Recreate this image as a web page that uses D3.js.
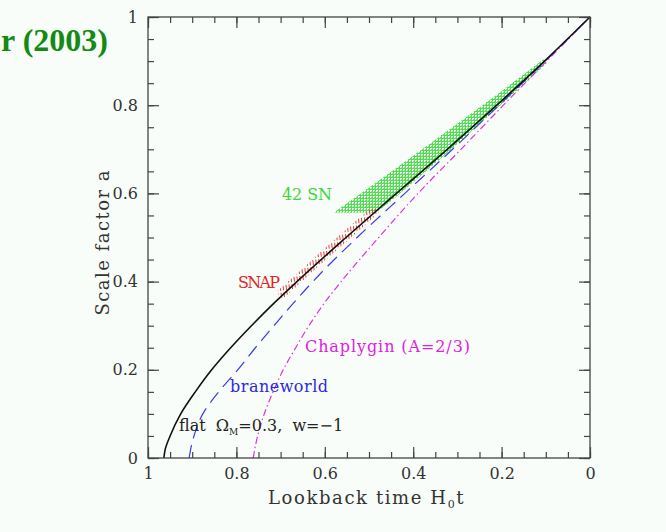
<!DOCTYPE html>
<html>
<head>
<meta charset="utf-8">
<script src="https://cdn.jsdelivr.net/npm/d3@7"></script>
<style>
  body { margin: 0; background: #f9fdf9; }
  svg { display: block; }
  .lbl { font-family: "DejaVu Serif", serif; }
  .tick text { font-family: "DejaVu Serif", serif; font-size: 16px; fill: #333; }
</style>
</head>
<body>
<div id="container"></div>
<script>
// scale factor a along each curve
const aFlat  = [0, 0.02, 0.05, 0.1, 0.15, 0.2, 0.25, 0.3, 0.35, 0.4, 0.5, 0.6, 0.7, 0.8, 0.9, 1.0];
const tFlat  = [0.964, 0.961, 0.950, 0.926, 0.893, 0.856, 0.813, 0.766, 0.716, 0.663, 0.552, 0.438, 0.323, 0.211, 0.103, 0];
const aBrane = [0, 0.05, 0.1, 0.15, 0.2, 0.25, 0.3, 0.35, 0.4, 0.5, 0.6, 0.7, 0.8, 0.9, 1.0];
const tBrane = [0.907, 0.896, 0.876, 0.840, 0.797, 0.757, 0.715, 0.672, 0.627, 0.527, 0.419, 0.311, 0.206, 0.101, 0];
const aChap  = [0, 0.05, 0.1, 0.15, 0.2, 0.25, 0.3, 0.35, 0.4, 0.5, 0.6, 0.7, 0.8, 0.9, 1.0];
const tChap  = [0.762, 0.752, 0.737, 0.717, 0.694, 0.666, 0.636, 0.602, 0.563, 0.478, 0.389, 0.292, 0.196, 0.098, 0];

// 42 SN region outline (lookback time, a)
const snBand = [[0.580, 0.556], [0.46, 0.642], [0.34, 0.729], [0.22, 0.817], [0.105, 0.904],
                [0.098, 0.895], [0.21, 0.793], [0.325, 0.690], [0.44, 0.591], [0.484, 0.556]];
// SNAP region outline
const snapBand = [[0.708, 0.378], [0.663, 0.418], [0.6085, 0.468], [0.552, 0.518], [0.490, 0.572],
                  [0.478, 0.556], [0.552, 0.490], [0.6085, 0.440], [0.663, 0.390], [0.698, 0.358]];

const xMajor = [1, 0.8, 0.6, 0.4, 0.2, 0];
const yMajor = [0, 0.2, 0.4, 0.6, 0.8, 1];
const minorTicks = d3.range(0, 21).map(i => i * 0.05);

const width = 666, height = 532;

const svg = d3.select("#container").append("svg")
    .attr("width", width)
    .attr("height", height);

const x = d3.scaleLinear().domain([1, 0]).range([148, 590]);
const y = d3.scaleLinear().domain([0, 1]).range([458, 17]);

// hatch patterns
const defs = svg.append("defs");
const gp = defs.append("pattern").attr("id", "snHatch")
    .attr("patternUnits", "userSpaceOnUse").attr("width", 3).attr("height", 3);
gp.append("rect").attr("width", 3).attr("height", 1).attr("fill", "#4ee04e");
gp.append("rect").attr("width", 1).attr("height", 3).attr("fill", "#4ee04e");
gp.append("rect").attr("x", 2).attr("y", 2).attr("width", 1).attr("height", 1).attr("fill", "#7aea7a");

const rp = defs.append("pattern").attr("id", "snapHatch")
    .attr("patternUnits", "userSpaceOnUse").attr("width", 3).attr("height", 7)
    .attr("patternTransform", "rotate(-8)");
rp.append("rect").attr("width", 1).attr("height", 5).attr("fill", "#e83838");

const areaLine = d3.line().x(d => x(d[0])).y(d => y(d[1]));

svg.append("path")
    .attr("d", areaLine(snBand) + "Z")
    .attr("fill", "url(#snHatch)");

svg.append("path")
    .attr("d", areaLine(snapBand) + "Z")
    .attr("fill", "url(#snapHatch)");

// curves
const curve = d3.line()
    .x(d => x(d[0]))
    .y(d => y(d[1]))
    .curve(d3.curveMonotoneY);

const zip = (t, a) => t.map((v, i) => [v, a[i]]);

svg.append("path")
    .attr("d", curve(zip(tChap, aChap)))
    .attr("fill", "none")
    .attr("stroke", "#e030e0")
    .attr("stroke-width", 1.2)
    .attr("stroke-dasharray", "7,3,1.5,3");

svg.append("path")
    .attr("d", curve(zip(tBrane, aBrane)))
    .attr("fill", "none")
    .attr("stroke", "#3a3ae8")
    .attr("stroke-width", 1.2)
    .attr("stroke-dasharray", "13,7");

svg.append("path")
    .attr("d", curve(zip(tFlat, aFlat)))
    .attr("fill", "none")
    .attr("stroke", "#111")
    .attr("stroke-width", 1.6);

// axes
const axisCol = "#444";
function styleAxis(g) {
    g.select(".domain").remove();
    g.selectAll(".tick line").attr("stroke", axisCol).attr("stroke-width", 1.2);
}

svg.append("g").attr("transform", "translate(0,458)")
    .call(d3.axisBottom(x).tickValues(minorTicks).tickSizeInner(-6).tickSizeOuter(0).tickFormat(""))
    .call(styleAxis);
svg.append("g").attr("transform", "translate(0,458)")
    .call(d3.axisBottom(x).tickValues(xMajor).tickSizeInner(-11).tickSizeOuter(0).tickPadding(10)
        .tickFormat(d3.format("~g")))
    .call(styleAxis);
svg.append("g").attr("transform", "translate(0,17)")
    .call(d3.axisTop(x).tickValues(minorTicks).tickSizeInner(-6).tickSizeOuter(0).tickFormat(""))
    .call(styleAxis);
svg.append("g").attr("transform", "translate(0,17)")
    .call(d3.axisTop(x).tickValues(xMajor).tickSizeInner(-11).tickSizeOuter(0).tickFormat(""))
    .call(styleAxis);

svg.append("g").attr("transform", "translate(148,0)")
    .call(d3.axisLeft(y).tickValues(minorTicks).tickSizeInner(-6).tickSizeOuter(0).tickFormat(""))
    .call(styleAxis);
svg.append("g").attr("transform", "translate(148,0)")
    .call(d3.axisLeft(y).tickValues(yMajor).tickSizeInner(-11).tickSizeOuter(0).tickPadding(10)
        .tickFormat(d3.format("~g")))
    .call(styleAxis);
svg.append("g").attr("transform", "translate(590,0)")
    .call(d3.axisRight(y).tickValues(minorTicks).tickSizeInner(-6).tickSizeOuter(0).tickFormat(""))
    .call(styleAxis);
svg.append("g").attr("transform", "translate(590,0)")
    .call(d3.axisRight(y).tickValues(yMajor).tickSizeInner(-11).tickSizeOuter(0).tickFormat(""))
    .call(styleAxis);

svg.append("rect")
    .attr("x", x(1)).attr("y", y(1))
    .attr("width", x(0) - x(1)).attr("height", y(0) - y(1))
    .attr("fill", "none").attr("stroke", axisCol).attr("stroke-width", 1.3);

// axis titles
const xt = svg.append("text").attr("class", "lbl")
    .attr("x", 268).attr("y", 504)
    .attr("font-size", 18).attr("letter-spacing", 1.6).attr("fill", "#333");
xt.append("tspan").text("Lookback time H");
xt.append("tspan").attr("dy", 4).attr("font-size", 11).text("0");
xt.append("tspan").attr("dy", -4).text("t");

svg.append("text").attr("class", "lbl")
    .attr("transform", "translate(109,243) rotate(-90)")
    .attr("text-anchor", "middle")
    .attr("font-size", 18).attr("fill", "#333")
    .attr("textLength", 145).attr("lengthAdjust", "spacing")
    .text("Scale factor a");

// curve labels
function label(txt, x0, y0, len, col) {
    svg.append("text").attr("class", "lbl")
        .attr("x", x0).attr("y", y0).attr("font-size", 16).attr("fill", col)
        .attr("textLength", len).attr("lengthAdjust", "spacing")
        .text(txt);
}
label("42 SN", 282, 200, 50, "#3ad83a");
label("SNAP", 238, 288, 42, "#e02828");
label("Chaplygin (A=2/3)", 305, 352, 165, "#e020e0");
label("braneworld", 230, 392, 98, "#2a2ae0");

const fl = svg.append("text").attr("class", "lbl")
    .attr("x", 179).attr("y", 431).attr("font-size", 16).attr("fill", "#222");
fl.append("tspan").text("flat  Ω").attr("style", "white-space:pre");
fl.append("tspan").attr("dy", 4).attr("font-size", 9).text("M");
fl.append("tspan").attr("dy", -4).attr("style", "white-space:pre").text("=0.3,  w=\u22121");

// title fragment
svg.append("text")
    .attr("x", 108).attr("y", 51)
    .attr("text-anchor", "end")
    .attr("font-family", "Liberation Serif, serif")
    .attr("font-weight", "bold")
    .attr("font-size", 32)
    .attr("fill", "#138a13")
    .text("r (2003)");
</script>
</body>
</html>
